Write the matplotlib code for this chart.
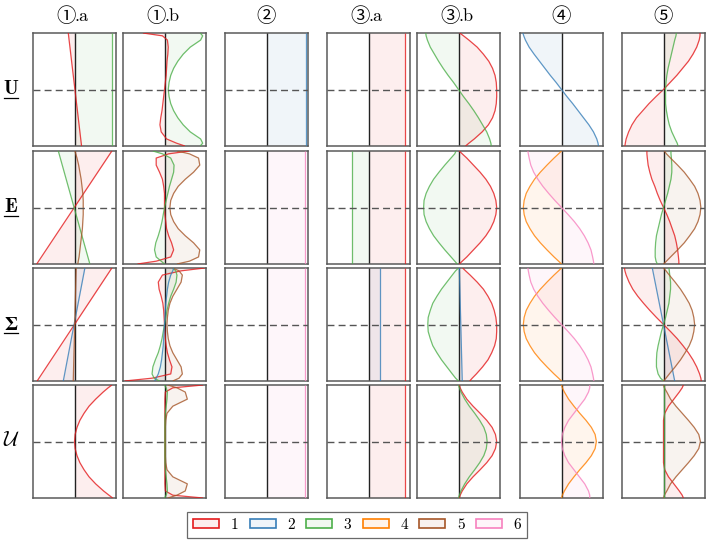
import matplotlib
matplotlib.use("Agg")
import matplotlib.pyplot as plt
from matplotlib.patches import Patch
from matplotlib.lines import Line2D
from matplotlib.colors import to_rgba

plt.rcParams['mathtext.fontset'] = 'cm'

# ---------------- data ----------------
# through-thickness coordinate (bottom -> top)
Z = [-1.0, -0.95, -0.875, -0.75, -0.625, -0.5, -0.375, -0.25, -0.125, 0.0,
     0.125, 0.25, 0.375, 0.5, 0.625, 0.75, 0.875, 0.95, 1.0]
Z_ENDS = [-1.0, 1.0]

COLORS = ['#e41a1c', '#377eb8', '#4daf4a', '#ff7f00', '#a65628', '#f781bf']
LEGEND_LABELS = ['1', '2', '3', '4', '5', '6']
COL_MARKS = ['①', '①', '②', '③', '③', '④', '⑤']
COL_SUFFIX = ['.a', '.b', '', '.a', '.b', '', '']
ROW_LABELS = ['U', 'E', 'Σ', r'$\mathcal{U}$']

# ---- row U ----
u1a_red = [0.17, -0.15]
u1a_green = [0.90, 0.90]
u1b_red = [0.49, 0.29, 0.05, -0.08, -0.11, -0.09, -0.06, -0.04, -0.02, 0.0,
           0.02, 0.04, 0.05, 0.06, 0.08, 0.09, 0.07, -0.05, -0.52]
u1b_green = [0.86, 0.92, 0.87, 0.62, 0.45, 0.32, 0.22, 0.15, 0.11, 0.09,
             0.11, 0.15, 0.22, 0.32, 0.45, 0.62, 0.87, 0.92, 0.86]
u2_blue = [0.94, 0.94]
u3a_red = [0.89, 0.89]
u3b_red = [0.17, 0.25, 0.38, 0.57, 0.72, 0.82, 0.88, 0.91, 0.92, 0.92,
           0.91, 0.88, 0.82, 0.73, 0.60, 0.45, 0.25, 0.12, 0.03]
u3b_green = [0.79, 0.78, 0.75, 0.68, 0.58, 0.48, 0.37, 0.25, 0.12, 0.0,
             -0.12, -0.25, -0.37, -0.48, -0.58, -0.68, -0.75, -0.78, -0.79]
u4_blue = [0.89, 0.88, 0.85, 0.77, 0.66, 0.53, 0.40, 0.27, 0.13, 0.0,
           -0.13, -0.27, -0.40, -0.53, -0.66, -0.78, -0.87, -0.91, -0.93]
u5_red = [-0.93, -0.92, -0.90, -0.84, -0.76, -0.65, -0.50, -0.35, -0.18, 0.0,
          0.16, 0.32, 0.46, 0.60, 0.71, 0.80, 0.86, 0.88, 0.88]
u5_green = [0.35, 0.33, 0.28, 0.20, 0.14, 0.10, 0.07, 0.05, 0.05, 0.05,
            0.06, 0.08, 0.11, 0.15, 0.19, 0.23, 0.27, 0.30, 0.31]

# ---- row E ----
e1a_red = [-0.91, 0.90]
e1a_green = [0.37, -0.39]
e1a_brown = [0.08, 0.09, 0.11, 0.13, 0.15, 0.17, 0.19, 0.20, 0.21, 0.21,
             0.21, 0.20, 0.18, 0.16, 0.13, 0.10, 0.06, 0.03, 0.01]
e1b_red = [-0.65, -0.20, 0.15, 0.22, 0.17, 0.10, 0.05, 0.03, 0.01, 0.0,
           0.0, 0.0, -0.02, -0.05, -0.12, -0.20, -0.20, 0.10, 0.60]
e1b_green = [0.0, -0.08, -0.20, -0.24, -0.21, -0.15, -0.10, -0.06, -0.03, 0.0,
             0.04, 0.08, 0.12, 0.17, 0.22, 0.23, 0.15, -0.05, -0.28]
e1b_brown = [0.30, 0.60, 0.82, 0.85, 0.70, 0.50, 0.33, 0.22, 0.15, 0.13,
             0.15, 0.22, 0.33, 0.50, 0.70, 0.85, 0.82, 0.60, 0.30]
e2_pink = [0.92, 0.92]
e3a_green = [-0.39, -0.39]
e3a_red = [0.89, 0.89]
e3b_red = [0.02, 0.09, 0.20, 0.36, 0.52, 0.66, 0.77, 0.85, 0.90, 0.92,
           0.90, 0.85, 0.77, 0.66, 0.52, 0.36, 0.20, 0.09, 0.02]
e3b_green = [-0.03, -0.09, -0.18, -0.33, -0.47, -0.60, -0.70, -0.78, -0.83, -0.84,
             -0.83, -0.78, -0.70, -0.60, -0.47, -0.33, -0.18, -0.09, -0.06]
e4_orange = [0.0, -0.07, -0.18, -0.35, -0.51, -0.65, -0.76, -0.85, -0.90, -0.92,
             -0.90, -0.85, -0.76, -0.65, -0.51, -0.35, -0.18, -0.07, 0.0]
e4_pink = [0.78, 0.77, 0.75, 0.71, 0.64, 0.55, 0.44, 0.31, 0.16, 0.0,
           -0.16, -0.31, -0.45, -0.57, -0.67, -0.74, -0.78, -0.80, -0.81]
e5_red = [0.37, 0.37, 0.36, 0.34, 0.31, 0.27, 0.21, 0.15, 0.08, 0.0,
          -0.08, -0.15, -0.21, -0.28, -0.33, -0.37, -0.39, -0.40, -0.40]
e5_green = [-0.15, -0.18, -0.20, -0.20, -0.19, -0.17, -0.13, -0.09, -0.05, 0.0,
            0.05, 0.10, 0.14, 0.18, 0.20, 0.20, 0.19, 0.18, 0.18]
e5_brown = [0.0, 0.07, 0.17, 0.34, 0.50, 0.63, 0.75, 0.83, 0.88, 0.90,
            0.88, 0.83, 0.75, 0.63, 0.50, 0.34, 0.17, 0.07, 0.02]

# ---- row Sigma ----
s1a_red = [-0.90, 0.90]
s1a_blue = [-0.27, 0.25]
s1a_brown = [-0.03, 0.04]
s1b_red = [-0.96, -0.30, 0.15, 0.18, 0.12, 0.07, 0.04, 0.02, 0.01, 0.0,
           -0.01, -0.02, -0.04, -0.08, -0.13, -0.15, -0.05, 0.40, 0.97]
s1b_green = [-0.12, -0.25, -0.30, -0.28, -0.22, -0.15, -0.10, -0.06, -0.03, 0.0,
             0.03, 0.06, 0.10, 0.15, 0.22, 0.28, 0.30, 0.27, 0.20]
s1b_brown = [0.20, 0.35, 0.43, 0.40, 0.30, 0.20, 0.13, 0.09, 0.07, 0.06,
             0.07, 0.09, 0.13, 0.20, 0.30, 0.40, 0.43, 0.35, 0.20]
s1b_blue = [-0.24, -0.20, -0.15, -0.10, -0.07, -0.05, -0.03, -0.02, -0.01, 0.0,
            0.01, 0.02, 0.03, 0.05, 0.07, 0.10, 0.15, 0.20, 0.22]
s2_pink = [0.92, 0.92]
s3a_blue = [0.28, 0.28]
s3a_red = [0.89, 0.89]
s3b_green = [0.0, -0.07, -0.15, -0.28, -0.41, -0.52, -0.62, -0.68, -0.73, -0.74,
             -0.73, -0.68, -0.62, -0.52, -0.41, -0.28, -0.15, -0.07, 0.0]
s3b_red = [0.27, 0.33, 0.43, 0.58, 0.71, 0.80, 0.87, 0.91, 0.92, 0.92,
           0.90, 0.86, 0.80, 0.71, 0.60, 0.45, 0.28, 0.17, 0.10]
s3b_blue = [0.09, 0.02]
s4_orange = [0.0, -0.07, -0.18, -0.35, -0.51, -0.65, -0.76, -0.85, -0.90, -0.92,
             -0.90, -0.85, -0.76, -0.65, -0.51, -0.35, -0.18, -0.07, 0.0]
s4_pink = [0.78, 0.77, 0.75, 0.71, 0.64, 0.55, 0.44, 0.31, 0.16, 0.0,
           -0.16, -0.31, -0.45, -0.57, -0.67, -0.74, -0.78, -0.80, -0.81]
s5_red = [0.91, 0.90, 0.87, 0.80, 0.71, 0.60, 0.47, 0.33, 0.17, 0.0,
          -0.17, -0.33, -0.48, -0.62, -0.74, -0.83, -0.90, -0.93, -0.94]
s5_blue = [0.27, -0.27]
s5_green = [0.0, -0.07, -0.13, -0.17, -0.17, -0.16, -0.13, -0.09, -0.05, 0.0,
            0.05, 0.09, 0.13, 0.15, 0.17, 0.17, 0.15, 0.14, 0.13]
s5_brown = [0.0, 0.06, 0.14, 0.28, 0.41, 0.52, 0.62, 0.69, 0.73, 0.75,
            0.73, 0.69, 0.62, 0.52, 0.41, 0.28, 0.14, 0.06, 0.0]

# ---- row calligraphic U ----
v1a_red = [0.92, 0.83, 0.70, 0.51, 0.35, 0.23, 0.13, 0.06, 0.015, 0.0,
           0.015, 0.06, 0.13, 0.23, 0.35, 0.51, 0.69, 0.81, 0.90]
v1b_red = [0.93, 0.20, 0.02, 0.01, 0.01, 0.01, 0.01, 0.01, 0.01, 0.01,
           0.01, 0.01, 0.01, 0.01, 0.01, 0.01, 0.02, 0.20, 0.93]
v1b_brown = [0.08, 0.30, 0.50, 0.55, 0.20, 0.06, 0.03, 0.02, 0.02, 0.02,
             0.02, 0.02, 0.03, 0.06, 0.20, 0.55, 0.50, 0.30, 0.08]
v1b_green = [0.0, 0.04, 0.07, 0.06, 0.04, 0.02, 0.01, 0.01, 0.01, 0.01,
             0.01, 0.01, 0.01, 0.02, 0.04, 0.06, 0.07, 0.04, 0.0]
v2_pink = [0.92, 0.92]
v3a_red = [0.89, 0.89]
v3b_red = [0.02, 0.04, 0.09, 0.20, 0.35, 0.52, 0.68, 0.81, 0.89, 0.92,
           0.89, 0.81, 0.68, 0.52, 0.35, 0.20, 0.09, 0.04, 0.02]
v3b_green = [0.0, 0.02, 0.06, 0.15, 0.26, 0.39, 0.51, 0.61, 0.67, 0.69,
             0.67, 0.61, 0.51, 0.39, 0.26, 0.15, 0.06, 0.02, 0.0]
v4_orange = [0.0, 0.02, 0.07, 0.17, 0.30, 0.44, 0.59, 0.72, 0.81, 0.84,
             0.81, 0.72, 0.59, 0.44, 0.30, 0.17, 0.07, 0.02, 0.0]
v4_pink = [0.68, 0.68, 0.65, 0.56, 0.43, 0.30, 0.17, 0.08, 0.02, 0.0,
           0.02, 0.08, 0.17, 0.30, 0.43, 0.56, 0.65, 0.68, 0.68]
v5_red = [0.48, 0.45, 0.38, 0.25, 0.12, 0.03, 0.0, 0.0, 0.0, 0.0,
          0.0, 0.0, 0.0, 0.03, 0.12, 0.25, 0.38, 0.45, 0.48]
v5_brown = [0.0, 0.02, 0.08, 0.17, 0.30, 0.45, 0.60, 0.74, 0.85, 0.89,
            0.85, 0.74, 0.60, 0.45, 0.30, 0.17, 0.08, 0.02, 0.0]
v5_green = [0.02, 0.02]

# (row, col) -> list of (mode index 1..6, values)
PANELS = {
    (0, 0): [(1, u1a_red), (3, u1a_green)],
    (0, 1): [(1, u1b_red), (3, u1b_green)],
    (0, 2): [(2, u2_blue)],
    (0, 3): [(1, u3a_red)],
    (0, 4): [(1, u3b_red), (3, u3b_green)],
    (0, 5): [(2, u4_blue)],
    (0, 6): [(1, u5_red), (3, u5_green)],
    (1, 0): [(1, e1a_red), (3, e1a_green), (5, e1a_brown)],
    (1, 1): [(1, e1b_red), (3, e1b_green), (5, e1b_brown)],
    (1, 2): [(6, e2_pink)],
    (1, 3): [(3, e3a_green), (1, e3a_red)],
    (1, 4): [(1, e3b_red), (3, e3b_green)],
    (1, 5): [(4, e4_orange), (6, e4_pink)],
    (1, 6): [(1, e5_red), (3, e5_green), (5, e5_brown)],
    (2, 0): [(1, s1a_red), (2, s1a_blue), (5, s1a_brown)],
    (2, 1): [(1, s1b_red), (3, s1b_green), (5, s1b_brown), (2, s1b_blue)],
    (2, 2): [(6, s2_pink)],
    (2, 3): [(2, s3a_blue), (1, s3a_red)],
    (2, 4): [(3, s3b_green), (1, s3b_red), (2, s3b_blue)],
    (2, 5): [(4, s4_orange), (6, s4_pink)],
    (2, 6): [(1, s5_red), (2, s5_blue), (3, s5_green), (5, s5_brown)],
    (3, 0): [(1, v1a_red)],
    (3, 1): [(1, v1b_red), (5, v1b_brown), (3, v1b_green)],
    (3, 2): [(6, v2_pink)],
    (3, 3): [(1, v3a_red)],
    (3, 4): [(1, v3b_red), (3, v3b_green)],
    (3, 5): [(4, v4_orange), (6, v4_pink)],
    (3, 6): [(1, v5_red), (5, v5_brown), (3, v5_green)],
}

# ---------------- layout ----------------
FW, FH = 710, 541
fig = plt.figure(figsize=(FW / 100, FH / 100), dpi=100)

col_left = [33, 123, 225, 327, 417, 520, 622]
row_top = [33, 151, 268, 385]
PW, PH = 83, 113

for (r, c), curves in PANELS.items():
    x0, y0 = col_left[c], row_top[r]
    ax = fig.add_axes([x0 / FW, 1 - (y0 + PH) / FH, PW / FW, PH / FH])
    ax.set_xlim(-1, 1)
    ax.set_ylim(-1, 1)
    ax.set_xticks([])
    ax.set_yticks([])
    for sp in ax.spines.values():
        sp.set_color('#5a5a5a')
        sp.set_linewidth(1.1)
    for idx, vals in curves:
        col = COLORS[idx - 1]
        zz = Z if len(vals) == len(Z) else Z_ENDS
        ax.fill_betweenx(zz, 0, vals, color=col, alpha=0.07, lw=0, zorder=1)
        ax.plot(vals, zz, color=col, lw=0.9, alpha=0.8, zorder=3,
                solid_capstyle='butt')
    ax.axvline(0, color='#222222', lw=1.0, zorder=2)
    ax.axhline(0, color='#555555', lw=1.0, ls=(0, (5, 3)), zorder=4)

# column titles: circled number + suffix
MARK_FONT = ['Noto Sans CJK JP', 'DejaVu Sans']
for c in range(len(COL_MARKS)):
    pcx = col_left[c] + PW / 2
    if COL_SUFFIX[c]:
        fig.text((pcx - 8.5) / FW, 1 - 16 / FH, COL_MARKS[c], ha='center',
                 va='center', fontsize=14, family=MARK_FONT)
        fig.text((pcx + 0.5) / FW, 1 - 16 / FH, COL_SUFFIX[c], ha='left',
                 va='center', fontsize=13, family='cmr10')
    else:
        fig.text(pcx / FW, 1 - 16 / FH, COL_MARKS[c], ha='center',
                 va='center', fontsize=14, family=MARK_FONT)

# row labels
for r, lab in enumerate(ROW_LABELS):
    cy = row_top[r] + PH / 2
    base = cy + 5
    if r < 2:
        fig.text(11 / FW, 1 - base / FH, lab, ha='center', va='baseline',
                 fontsize=14, family='cmb10')
    elif r == 2:
        fig.text(11 / FW, 1 - base / FH, lab, ha='center', va='baseline',
                 fontsize=14, family='STIXGeneral', weight='bold')
    else:
        fig.text(11 / FW, 1 - base / FH, lab, ha='center', va='baseline',
                 fontsize=15)
    if r < 3:
        fig.add_artist(Line2D([4 / FW, 17.5 / FW],
                              [1 - (base + 3) / FH, 1 - (base + 3) / FH],
                              color='black', lw=0.9))

# legend
handles = [Patch(facecolor=to_rgba(c, 0.08), edgecolor=c, lw=1.2) for c in COLORS]
leg = fig.legend(handles, LEGEND_LABELS, loc='center',
                 bbox_to_anchor=(357 / FW, 1 - 525 / FH), ncol=6,
                 frameon=True, fancybox=False, edgecolor='#444444',
                 prop={'family': 'cmr10', 'size': 11},
                 handlelength=1.7, handleheight=0.6, handletextpad=0.75,
                 columnspacing=0.75, borderpad=0.4)
leg.get_frame().set_linewidth(0.9)

fig.savefig('out.png', dpi=100)
